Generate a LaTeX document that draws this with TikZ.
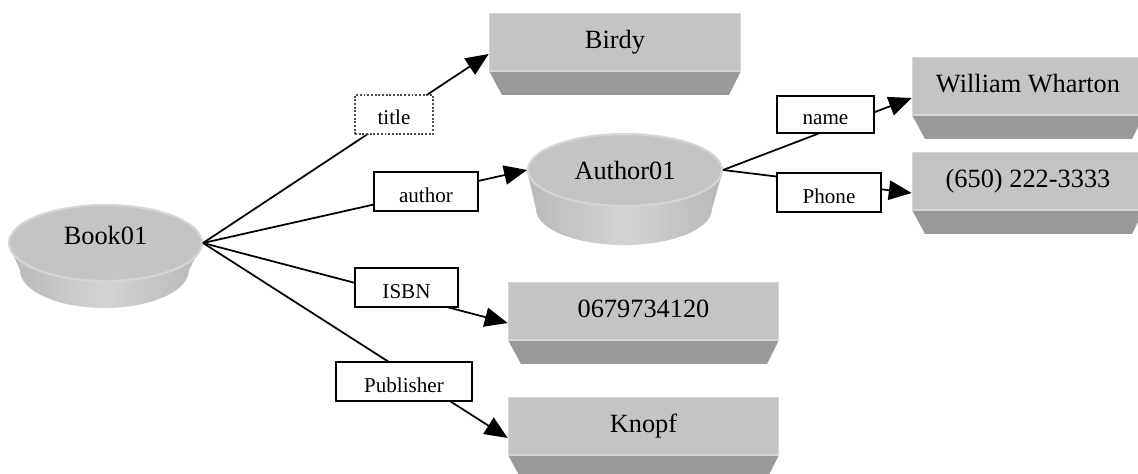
\documentclass[tikz,border=0pt]{standalone}
\usepackage{fontspec}
\setmainfont{Liberation Serif}
\usepackage{tikz}
\usetikzlibrary{arrows.meta,backgrounds,shapes.geometric}
\definecolor{faceGray}{RGB}{196,196,196}
\definecolor{baseGray}{RGB}{153,153,153}
\definecolor{rimGray}{RGB}{214,214,214}
\definecolor{sideDark}{RGB}{184,184,184}
\definecolor{sideLight}{RGB}{212,212,212}

\begin{document}
\begin{tikzpicture}[
x=0.02cm, y=-0.02cm,
valbox/.style={rectangle, inner sep=0pt, minimum width=#1,
  text height=0.7cm, text depth=0.94cm, font=\fontsize{15}{18}\selectfont,
  path picture={
    \fill[faceGray] (path picture bounding box.north west) rectangle ([yshift=-1.16cm]path picture bounding box.north east);
    \fill[baseGray] ([yshift=-1.16cm]path picture bounding box.north west)
      -- ([yshift=-1.16cm]path picture bounding box.north east)
      -- ([xshift=-0.24cm]path picture bounding box.south east)
      -- ([xshift=0.26cm]path picture bounding box.south west) -- cycle;
    \draw[rimGray, line width=1.6pt] ([yshift=-1.16cm]path picture bounding box.north west)
      -- (path picture bounding box.north west) -- (path picture bounding box.north east)
      -- ([yshift=-1.16cm]path picture bounding box.north east);
    \draw[rimGray, line width=0.8pt] ([yshift=-1.16cm]path picture bounding box.north west)
      -- ([yshift=-1.16cm]path picture bounding box.north east);
  }},
dish/.style={ellipse, inner sep=0pt, fill=faceGray, draw=rimGray, line width=1.2pt,
  font=\fontsize{15}{18}\selectfont},
side/.style={left color=sideDark, right color=sideDark, middle color=sideLight},
lbl/.style={draw, fill=white, line width=1.1pt, inner sep=0pt, minimum height=0.78cm,
  text height=0.42cm, text depth=0pt, font=\fontsize{12}{14}\selectfont},
conn/.style={-{Triangle[length=13pt,width=11pt]}, line width=1pt}
]
    \clip (0,0) rectangle (1138,473);

    % dishes
    \node[dish, minimum width=3.86cm, minimum height=1.52cm, text depth=0.3cm] (book01) at (105.5,243) {Book01};
    \node[dish, minimum width=3.88cm, minimum height=1.44cm] (author01) at (625,170) {Author01};
    \begin{scope}[on background layer]
      \shade[side] (book01.west) -- ++(12,27)
        arc[start angle=180, end angle=0, x radius=84.5, y radius=38] -- (book01.east) -- cycle;
      \shade[side] (author01.west) -- ++(9,39)
        arc[start angle=180, end angle=0, x radius=88, y radius=36] -- (author01.east) -- cycle;
    \end{scope}

    % value boxes
    \node[valbox=5.04cm] (birdy) at (615,54) {Birdy};
    \node[valbox=4.64cm] (wharton) at (1028,98) {William Wharton};
    \node[valbox=4.64cm] (tel) at (1028,193) {(650) 222-3333};
    \node[valbox=5.42cm] (isbnval) at (643.5,323) {0679734120};
    \node[valbox=5.42cm] (knopf) at (643.5,438) {Knopf};

    % connectors
    \draw[conn] (book01.east) -- (birdy.west);
    \draw[conn] (book01.east) -- (author01.west);
    \draw[conn] (book01.east) -- (isbnval.west);
    \draw[conn] (book01.east) -- (knopf.west);
    \draw[conn] (author01.east) -- (wharton.west);
    \draw[conn] (author01.east) -- (tel.west);

    % labels
    \node[lbl, minimum width=1.56cm, densely dotted, line width=0.7pt, draw=black!70] (title) at (394,114.5) {title};
    \node[lbl, minimum width=2.08cm] (author) at (426,191.5) {author};
    \node[lbl, minimum width=1.94cm, minimum height=0.74cm] (name) at (825.5,114.5) {name};
    \node[lbl, minimum width=2.08cm] (phone) at (829,192.5) {Phone};
    \node[lbl, minimum width=2.06cm] (isbn) at (406.5,287.5) {ISBN};
    \node[lbl, minimum width=2.72cm] (publisher) at (404,381.5) {Publisher};
\end{tikzpicture}
\end{document}
